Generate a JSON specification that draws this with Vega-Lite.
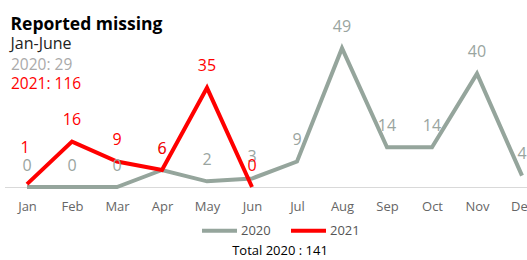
{
  "$schema": "https://vega.github.io/schema/vega-lite/v6.json",
  "autosize": "none",
  "padding": {"left": 4.5, "top": 0, "right": 0, "bottom": 73},
  "width": 540,
  "height": 187,
  "config": {
    "font": "Open Sans",
    "view": {"stroke": null}
  },
  "title": {
    "text": "Reported missing",
    "subtitle": "Jan-June",
    "anchor": "start",
    "frame": "group",
    "orient": "top",
    "offset": 0,
    "dx": 6,
    "dy": 52,
    "fontSize": 17.5,
    "fontWeight": "bold",
    "color": "#000000",
    "subtitleFontSize": 16,
    "subtitleColor": "#222222",
    "subtitlePadding": 3
  },
  "datasets": {
    "missing": [
      {"month": "Jan", "year": "2020", "value": 0},
      {"month": "Feb", "year": "2020", "value": 0},
      {"month": "Mar", "year": "2020", "value": 0},
      {"month": "Apr", "year": "2020", "value": 6},
      {"month": "May", "year": "2020", "value": 2},
      {"month": "Jun", "year": "2020", "value": 3},
      {"month": "Jul", "year": "2020", "value": 9},
      {"month": "Aug", "year": "2020", "value": 49},
      {"month": "Sep", "year": "2020", "value": 14},
      {"month": "Oct", "year": "2020", "value": 14},
      {"month": "Nov", "year": "2020", "value": 40},
      {"month": "Dec", "year": "2020", "value": 4},
      {"month": "Jan", "year": "2021", "value": 1},
      {"month": "Feb", "year": "2021", "value": 16},
      {"month": "Mar", "year": "2021", "value": 9},
      {"month": "Apr", "year": "2021", "value": 6},
      {"month": "May", "year": "2021", "value": 35},
      {"month": "Jun", "year": "2021", "value": 0}
    ],
    "summary": [
      {"label": "2020: 29", "year": "2020"},
      {"label": "2021: 116", "year": "2021"}
    ]
  },
  "layer": [
    {
      "data": {"name": "missing"},
      "mark": {"type": "line", "strokeWidth": 4, "strokeJoin": "miter"},
      "encoding": {
        "x": {
          "field": "month",
          "type": "ordinal",
          "sort": ["Jan","Feb","Mar","Apr","May","Jun","Jul","Aug","Sep","Oct","Nov","Dec"],
          "scale": {"type": "point", "padding": 0.5, "domain": ["Jan","Feb","Mar","Apr","May","Jun","Jul","Aug","Sep","Oct","Nov","Dec"]},
          "axis": {
            "title": null,
            "labelAngle": 0,
            "ticks": false,
            "grid": false,
            "domainColor": "#d9d9d9",
            "domainWidth": 1,
            "labelColor": "#666666",
            "labelFontSize": 13,
            "labelPadding": 13
          }
        },
        "y": {
          "field": "value",
          "type": "quantitative",
          "scale": {"domain": [0, 66], "nice": false, "zero": true},
          "axis": null
        },
        "color": {
          "field": "year",
          "type": "nominal",
          "scale": {"domain": ["2020", "2021"], "range": ["#95a59c", "#ff0000"]},
          "legend": {
            "orient": "none",
            "legendX": 195.5,
            "legendY": 211,
            "direction": "horizontal",
            "title": "Total 2020 : 141",
            "titleOrient": "bottom",
            "titleAnchor": "middle",
            "titleFontWeight": "normal",
            "titleFontSize": 13,
            "titleColor": "#000000",
            "titlePadding": 6,
            "labelFontSize": 13,
            "labelColor": "#555555",
            "labelOffset": 2,
            "symbolType": "stroke",
            "symbolSize": 1225,
            "symbolStrokeWidth": 4,
            "columnPadding": 12
          }
        }
      }
    },
    {
      "data": {"name": "missing"},
      "transform": [{"filter": "!(datum.month == 'Jan' && datum.year == '2021')"}],
      "mark": {"type": "text", "baseline": "middle", "dy": -21.5, "fontSize": 16},
      "encoding": {
        "x": {"field": "month", "type": "ordinal", "sort": ["Jan","Feb","Mar","Apr","May","Jun","Jul","Aug","Sep","Oct","Nov","Dec"]},
        "y": {"field": "value", "type": "quantitative"},
        "text": {"field": "value", "type": "quantitative"},
        "color": {
          "condition": {"test": "datum.year == '2021'", "value": "#ff0000"},
          "value": "#9aa59f"
        }
      }
    },
    {
      "data": {"name": "missing"},
      "transform": [{"filter": "datum.month == 'Jan' && datum.year == '2021'"}],
      "mark": {"type": "text", "baseline": "middle", "dy": -36, "dx": -2, "fontSize": 16, "color": "#ff0000"},
      "encoding": {
        "x": {"field": "month", "type": "ordinal", "sort": ["Jan","Feb","Mar","Apr","May","Jun","Jul","Aug","Sep","Oct","Nov","Dec"]},
        "y": {"field": "value", "type": "quantitative"},
        "text": {"field": "value", "type": "quantitative"}
      }
    },
    {
      "data": {"name": "summary"},
      "transform": [{"filter": "datum.year == '2020'"}],
      "mark": {"type": "text", "align": "left", "baseline": "middle", "dx": -16, "fontSize": 15.5, "color": "#aaaaaa"},
      "encoding": {
        "text": {"field": "label", "type": "nominal"},
        "x": {"datum": "Jan"},
        "y": {"datum": 43.2}
      }
    },
    {
      "data": {"name": "summary"},
      "transform": [{"filter": "datum.year == '2021'"}],
      "mark": {"type": "text", "align": "left", "baseline": "middle", "dx": -16, "fontSize": 15.5, "color": "#ff0000"},
      "encoding": {
        "text": {"field": "label", "type": "nominal"},
        "x": {"datum": "Jan"},
        "y": {"datum": 36.4}
      }
    }
  ]
}
